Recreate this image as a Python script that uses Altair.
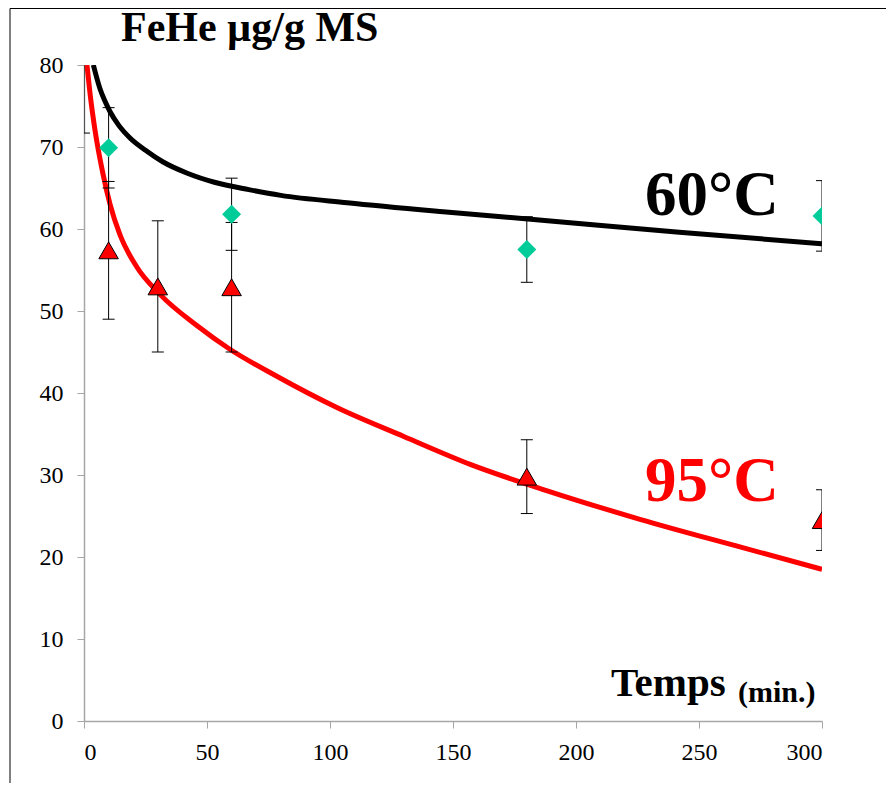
import altair as alt
import pandas as pd

t60 = [0, 10, 60, 180, 300]
y60 = [84.0, 69.9, 61.8, 57.5, 61.6]
e60 = [12.3, 4.9, 4.4, 4.0, 4.3]

t95 = [10, 30, 60, 180, 300]
y95 = [57.4, 53.0, 52.9, 29.8, 24.5]
e95 = [8.4, 8.0, 7.9, 4.5, 3.7]

# trend curves
ct60 = [3.8, 6.5, 8.5, 10.6, 14, 18.7, 25, 32, 42, 53, 67, 80, 107, 146, 185, 242, 300]
cy60 = [80.0, 77.1, 75.6, 74.3, 72.7, 71.1, 69.6, 68.2, 66.8, 65.7, 64.8, 64.1, 63.2, 62.1, 61.1, 59.6, 58.2]

ct95 = [1.2, 2.5, 4.5, 7.8, 10.6, 14.6, 21.4, 31, 46, 59, 78, 103, 130, 157, 188, 226, 267, 300]
cy95 = [80.0, 76.4, 72.0, 66.6, 63.0, 59.3, 55.4, 52.0, 48.2, 45.4, 42.1, 38.2, 34.7, 31.3, 28.1, 24.6, 21.2, 18.5]

x_ticks = [0, 50, 100, 150, 200, 250, 300]
y_ticks = [0, 10, 20, 30, 40, 50, 60, 70, 80]

title_text = "FeHe µg/g MS"
xlab_main = "Temps"
xlab_unit = "(min.)"
lab60 = "60°C"
lab95 = "95°C"

# ---- tables ----
d60 = pd.DataFrame({"t": t60, "y": y60, "e": e60})
d60["lo"] = d60["y"] - d60["e"]
d60["hi"] = d60["y"] + d60["e"]
d95 = pd.DataFrame({"t": t95, "y": y95, "e": e95})
d95["lo"] = d95["y"] - d95["e"]
d95["hi"] = d95["y"] + d95["e"]
c60 = pd.DataFrame({"t": ct60, "y": cy60})
c95 = pd.DataFrame({"t": ct95, "y": cy95})

SERIF = "Liberation Serif"
GRAY = "#a6a6a6"

xs = alt.Scale(domain=[0, 300], nice=False)
ys = alt.Scale(domain=[0, 80], nice=False)

axis_common = dict(title=None, grid=False, domainColor=GRAY, domainWidth=1.5, tickColor=GRAY,
                   tickSize=7, labelFont=SERIF, labelFontSize=24, labelColor="black")
XAX = alt.Axis(values=x_ticks, labelPadding=12, **axis_common)
YAX = alt.Axis(values=y_ticks, labelPadding=14, **axis_common)

def X():
    return alt.X("t:Q", scale=xs, axis=XAX)

def Y(field="y"):
    return alt.Y(f"{field}:Q", scale=ys, axis=YAX)

line60 = alt.Chart(c60).mark_line(color="black", strokeWidth=5, interpolate="monotone", clip=True).encode(x=X(), y=Y())
line95 = alt.Chart(c95).mark_line(color="#ff0000", strokeWidth=5, interpolate="monotone", clip=True).encode(x=X(), y=Y())

def errlayers(df):
    rule = alt.Chart(df).mark_rule(color="black", strokeWidth=1, clip=True).encode(
        x=X(), y=Y("lo"), y2="hi:Q")
    lo = alt.Chart(df).mark_tick(color="black", orient="horizontal", size=12, thickness=1, clip=True, opacity=1).encode(
        x=X(), y=Y("lo"))
    hi = alt.Chart(df).mark_tick(color="black", orient="horizontal", size=12, thickness=1, clip=True, opacity=1).encode(
        x=X(), y=Y("hi"))
    return [rule, lo, hi]

pts60 = alt.Chart(d60).mark_point(shape="diamond", filled=True, size=360, color="#00cc99", opacity=1, clip=True).encode(x=X(), y=Y())
pts95 = alt.Chart(d95).mark_point(shape="triangle-up", filled=True, size=380, fill="#ff0000", stroke="black",
                                   strokeWidth=1, opacity=1, clip=True).encode(x=X(), y=Y())

def txt(s, x, y, size, color="black", align="left"):
    return alt.Chart(pd.DataFrame({"s": [s]})).mark_text(
        font=SERIF, fontWeight="bold", fontSize=size, color=color, align=align, baseline="alphabetic"
    ).encode(x=alt.value(x), y=alt.value(y), text="s:N")

texts = [
    txt(title_text, 37, -24, 42),
    txt(xlab_main, 527, 631, 41),
    txt(xlab_unit, 654, 637, 30),
    txt(lab60, 561, 150, 63),
    txt(lab95, 561, 436, 63, color="#ff0000"),
]

frame_left = alt.Chart(pd.DataFrame({"a": [0]})).mark_rule(color="black", strokeWidth=1, clip=False).encode(
    x=alt.value(-74), y=alt.value(-56.5), y2=alt.value(730))
frame_top = alt.Chart(pd.DataFrame({"a": [0]})).mark_rule(color="black", strokeWidth=1, clip=False).encode(
    x=alt.value(-74), x2=alt.value(810), y=alt.value(-56.5))

layers = [line60, line95] + errlayers(d60) + errlayers(d95) + [pts60, pts95] + texts + [frame_left, frame_top]

chart = alt.layer(*layers).properties(
    width=738, height=656,
    autosize=alt.AutoSizeParams(type="none"),
    padding={"left": 76, "top": 57, "right": 64, "bottom": 62},
    background="white",
).configure_view(stroke=None).configure_axis(
    labelFont=SERIF, labelFontSize=24,
)

chart.save("out.html", embed_options={"renderer": "svg", "actions": False})
